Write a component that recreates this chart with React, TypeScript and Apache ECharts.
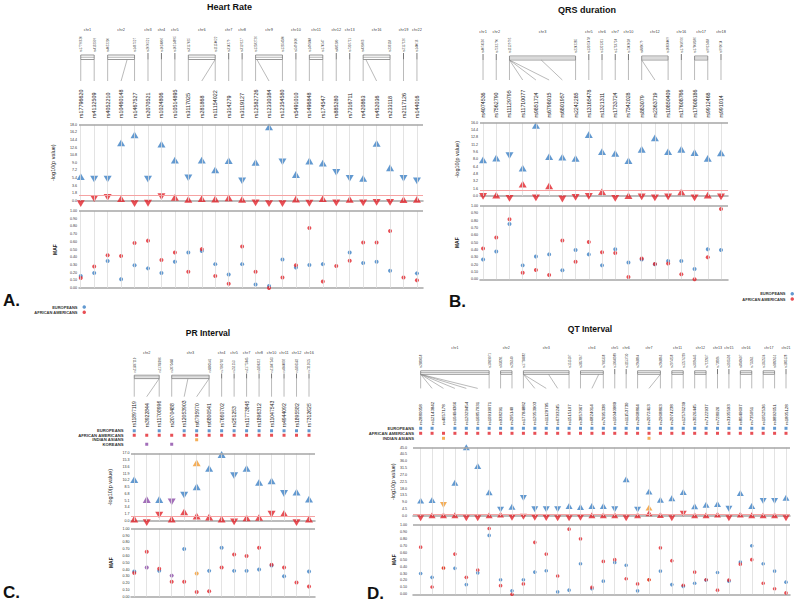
import React, { useEffect, useRef } from "react";
import * as echarts from "echarts";

const FONT = 'Arial, "Liberation Sans", Helvetica, sans-serif';
const BLUE = "#3b7fc4";
const RED = "#e2232a";
const ORANGE = "#f29a2e";
const PURPLE = "#8b4aa8";

// ---------------- A. Heart Rate ----------------
const hrSnps = ["rs17796620","rs4132509","rs4052210","rs10460148","rs1467527","rs2070521","rs1024806","rs10514895","rs3117025","rs281868","rs11154022","rs314279","rs3119127","rs12582726","rs12330384","rs12354580","rs5491010","rs1496848","rs174547","rs885280","rs7316711","rs420863","rs452036","rs233118","rs2117126","rs144016"];
const hrChr: [string, number, number][] = [["chr1",0,1],["chr2",2,4],["chr3",5,5],["chr4",6,6],["chr5",7,7],["chr6",8,10],["chr7",11,11],["chr8",12,12],["chr9",13,15],["chr10",16,16],["chr11",17,18],["chr12",19,19],["chr13",20,20],["chr16",21,23],["chr19",24,24],["chr22",25,25]];
const hrLinks: [number, number][] = [[3.45,3],[10,9],[13.1,14],[21.2,22]];
const hrEuP = [5.7,5.1,5.1,13.7,15.6,5.1,13.4,9.6,5.4,9.6,7.3,9.5,4.7,9.1,17.5,9.2,6.2,9.4,8.9,6.7,5.3,5.3,13.6,7.8,5.3,4.7];
const hrEuDir = [1,-1,-1,1,1,-1,1,1,-1,1,1,1,-1,1,1,-1,1,1,1,-1,-1,1,1,1,-1,-1];
const hrAaP = [-0.7,0.5,0.8,0.5,-0.7,-0.6,0.95,0.8,0.3,0.5,0.4,0.7,0.3,-0.5,-0.7,-0.7,0.4,-0.6,0.5,-0.5,0.3,-0.5,-0.4,-0.4,0.25,0.3];
const hrAaDir = [-1,-1,-1,1,-1,-1,-1,1,1,1,1,1,1,-1,-1,-1,1,-1,1,-1,1,-1,-1,-1,1,1];
const hrEuMaf = [0.155,0.195,0.35,0.115,0.295,0.255,0.195,0.34,0.46,0.48,0.31,0.175,0.31,0.045,0.025,0.37,0.265,0.30,0.31,null,0.46,0.325,0.34,0.225,null,0.19];
const hrAaMaf = [0.13,0.28,0.425,0.415,0.585,0.615,0.365,0.46,0.21,0.505,0.155,0.055,0.54,0.21,0.0,0.135,0.295,0.78,0.085,0.285,0.355,0.59,0.59,0.74,0.135,0.10];

// ---------------- B. QRS duration ----------------
const qrsSnps = ["rs4074536","rs7562790","rs11129795","rs11710077","rs9851724","rs6798015","rs6801957","rs2242285","rs13165478","rs1321311","rs1733724","rs7342028","rs883079","rs2363719","rs10850409","rs17608766","rs17608186","rs9912468","rs991014"];
const qrsChr: [string, number, number][] = [["chr1",0,0],["chr2",1,1],["chr3",2,7],["chr5",8,8],["chr6",9,9],["chr7",10,10],["chr10",11,11],["chr12",12,14],["chr16",15,15],["chr17",16,17],["chr18",18,18]];
const qrsLinks: [number, number][] = [[2,3],[2,4],[2,5],[4.4,6],[12,13]];
const qrsEuP = [7.9,8.3,8.8,6.1,15.4,8.6,8.5,8.2,13.4,9.7,9.3,7.7,10.2,12.7,9.7,10.2,9.5,8.2,9.4];
const qrsEuDir = [1,1,-1,1,1,1,1,1,1,1,1,1,1,1,1,1,1,1,1];
const qrsAaP = [-0.1,0.2,-0.5,2.6,-0.4,2.2,-0.65,-0.3,-0.1,0.95,-0.5,0.1,-0.2,-0.4,-0.2,0.9,-0.4,0.2,-0.2];
const qrsAaDir = [-1,1,-1,1,-1,1,-1,-1,-1,1,-1,1,-1,-1,-1,1,-1,1,-1];
const qrsEuMaf = [0.27,0.38,0.755,0.19,0.31,0.34,0.123,0.40,0.34,0.19,0.41,0.23,0.27,0.205,0.25,0.25,0.14,0.41,0.40];
const qrsAaMaf = [0.42,0.57,0.82,0.09,0.127,0.06,0.53,0.24,0.51,0.37,0.36,0.03,0.285,0.21,0.215,0.07,0.0,0.30,0.96];

// ---------------- C. PR Interval ----------------
const prSnps = ["rs11897119","rs3922844","rs11708996","rs2070488","rs12053903","rs6795970","rs6800541","rs7660702","rs251253","rs11773845","rs1896312","rs11047543","rs4944092","rs1895582","rs7312625"];
const prChr: [string, number, number][] = [["chr2",0,2],["chr3",3,6],["chr4",7,7],["chr5",8,8],["chr7",9,9],["chr8",10,10],["chr10",11,11],["chr11",12,12],["chr12",13,13],["chr16",14,14]];
const prLinks: [number, number][] = [[2,1],[4.3,4],[6,5]];
const prRows = ["EUROPEANS","AFRICAN AMERICANS","INDIAN ASIANS","KOREANS"];
const prEuP = [10.4,null,5.4,null,6.5,8.6,13.2,16.7,11.4,13.2,9.7,10.1,6.9,7.25,5.5];
const prEuDir = [1,0,1,0,-1,1,1,1,-1,1,1,1,-1,1,1];
const prAaP = [0.5,-0.4,1.5,0.5,2.3,1.25,1.0,0.5,-0.2,0.8,0.9,1.7,1.9,-0.4,0.5];
const prAaDir = [1,-1,-1,1,1,1,1,1,-1,1,1,-1,1,-1,1];
const prIaP = [null,null,null,null,null,14.6,null,null,null,null,null,null,null,null,null];
const prIaDir = [0,0,0,0,0,1,0,0,0,0,0,0,0,0,0];
const prKoP = [null,5.4,null,4.8,null,null,null,null,null,null,null,null,null,null,null];
const prKoDir = [0,1,0,-1,0,0,0,0,0,0,0,0,0,0,0];
const prEuMaf = [0.37,null,0.38,null,0.70,null,0.38,0.72,0.38,0.38,0.40,0.46,0.30,null,0.37];
const prAaMaf = [0.35,0.66,0.41,0.22,0.22,0.07,0.08,0.43,0.62,0.60,0.72,0.47,0.43,0.21,0.15];
const prIaMaf = [null,null,null,null,null,0.34,null,null,null,null,null,null,null,null,null];
const prKoMaf = [null,0.43,null,0.31,null,null,null,null,null,null,null,null,null,null,null];

// ---------------- D. QT Interval ----------------
const qtSnps = ["rs2880058","rs12143842","rs4657178","rs10494366","rs12029454","rs16857031","rs10919071","rs938291","rs295140","rs17784882","rs12053903","rs11129795","rs6793245","rs1515107","rs3857067","rs6824014","rs7695338","rs10040989","rs11153730","rs2968864","rs2072413","rs2968863","rs2074238","rs12576239","rs3026445","rs7122937","rs728926","rs3105593","rs8049607","rs735951","rs1052536","rs9892651","rs1805128"];
const qtChr: [string, number, number][] = [["chr1",0,6],["chr2",7,8],["chr3",9,13],["chr4",14,16],["chr5",17,17],["chr6",18,18],["chr7",19,21],["chr11",22,23],["chr12",24,25],["chr13",26,26],["chr15",27,27],["chr16",28,29],["chr17",30,31],["chr21",32,32]];
const qtLinks: [number, number][] = [[0,1],[0,2],[0,3],[0,4],[0,5],[9,10],[9,11],[11.2,12],[15.6,15],[21,20]];
const qtRows = ["EUROPEANS","AFRICAN AMERICANS","INDIAN ASIANS"];
const qtEuP = [10.1,10.5,null,21.9,45.1,32.9,15.6,4.2,6.1,11.8,4.4,4.4,4.4,6.6,5.9,6.6,6.6,4.4,24.1,4.2,16.0,10.7,11.6,15.8,6.4,7.4,7.9,4.8,15.1,6.6,9.9,9.9,12.0];
const qtEuDir = [1,1,0,1,1,1,1,-1,1,-1,-1,-1,-1,1,1,1,1,-1,1,-1,1,1,1,1,1,1,1,-1,1,1,-1,-1,1];
const qtAaP = [-1.5,0.45,0.45,0.45,-1.5,-1.5,0.45,0.9,-1.1,-0.5,-1.1,-1.3,-1.5,-1.5,-1.1,0.45,0.45,0.45,-1.5,0.45,1.8,0.6,-1.5,1.5,0.45,0.45,0.9,-1.5,0.9,0.45,0.45,0.45,-1.5];
const qtAaDir = [-1,1,1,1,-1,-1,1,1,-1,-1,-1,-1,-1,-1,-1,1,1,1,-1,1,1,1,-1,-1,1,1,1,-1,1,1,1,1,-1];
const qtIaP = [null,null,7.2,null,null,null,null,null,null,null,null,null,null,null,null,null,null,null,null,null,5.5,null,null,null,null,null,null,null,null,null,null,null,null];
const qtIaDir = [0,0,-1,0,0,0,0,0,0,0,0,0,0,0,0,0,0,0,0,0,1,0,0,0,0,0,0,0,0,0,0,0,0];
const qtEuMaf = [0.30,0.245,null,0.375,0.14,0.31,0.85,0.21,0.05,0.21,0.32,0.34,0.035,0.06,0.44,0.08,0.19,0.46,0.42,0.05,null,0.335,0.14,0.115,0.16,0.205,0.315,0.19,0.465,0.70,0.44,0.335,0.175];
const qtAaMaf = [0.68,0.105,0.38,0.58,0.245,0.35,0.95,0.125,0.0,0.15,0.75,0.58,0.265,0.94,0.80,0.10,0.475,0.50,0.225,0.15,0.21,0.67,0.485,0.13,0.32,0.21,0.06,0.205,0.435,0.50,0.16,0.08,0.02];
const qtIaMaf = [null,null,0.38,null,null,null,null,null,null,null,null,null,null,null,null,null,null,null,null,null,0.21,null,null,null,null,null,null,null,null,null,null,null,null];

const LEGEND_NAMES = ["EUROPEANS", "AFRICAN AMERICANS"];

type Pop = { name: string; color: string; p: (number | null)[]; dir: number[]; maf: (number | null)[] };
type Cfg = {
  snps: string[]; chr: [string, number, number][]; links: [number, number][];
  pops: Pop[]; rows: string[] | null;
  x0: number; x1: number; xMin: number; xMax: number;
  pTop: number; pBot: number; pMax: number; pInt: number;
  mTop: number; mBot: number; rTop?: number; rBot?: number; rowM?: number;
  d: { chrY: number; labB: number; boxT: number; boxB: number; lineB: number; rsB: number; rsFont: number; labFont: number; chrFont: number };
  lblM: number; gapP: number; gapM: number; tri: number; dot: number;
};

const panels: Cfg[] = [
  {
    snps: hrSnps, chr: hrChr, links: hrLinks, rows: null,
    pops: [
      { name: "EUROPEANS", color: BLUE, p: hrEuP, dir: hrEuDir, maf: hrEuMaf },
      { name: "AFRICAN AMERICANS", color: RED, p: hrAaP, dir: hrAaDir, maf: hrAaMaf },
    ],
    x0: 79, x1: 423, xMin: -0.13, xMax: 25.45,
    pTop: 124.7, pBot: 200.7, pMax: 18, pInt: 1.8, mTop: 211, mBot: 288,
    d: { chrY: 29, labB: 52, boxT: 55, boxB: 59.5, lineB: 81, rsB: 118, rsFont: 5.4, labFont: 3, chrFont: 3.9 },
    lblM: 2, gapP: 23, gapM: 21.5, tri: 8, dot: 4,
  },
  {
    snps: qrsSnps, chr: qrsChr, links: qrsLinks, rows: null,
    pops: [
      { name: "EUROPEANS", color: BLUE, p: qrsEuP, dir: qrsEuDir, maf: qrsEuMaf },
      { name: "AFRICAN AMERICANS", color: RED, p: qrsAaP, dir: qrsAaDir, maf: qrsAaMaf },
    ],
    x0: 480, x1: 728, xMin: -0.23, xMax: 18.53,
    pTop: 122.7, pBot: 196, pMax: 16, pInt: 1.6, mTop: 206, mBot: 279.3,
    d: { chrY: 31, labB: 53, boxT: 56, boxB: 60, lineB: 80, rsB: 117.5, rsFont: 5.3, labFont: 3, chrFont: 3.9 },
    lblM: 2, gapP: 20, gapM: 20.5, tri: 8, dot: 4,
  },
  {
    snps: prSnps, chr: prChr, links: prLinks, rows: prRows,
    pops: [
      { name: "EUROPEANS", color: BLUE, p: prEuP, dir: prEuDir, maf: prEuMaf },
      { name: "INDIAN ASIANS", color: ORANGE, p: prIaP, dir: prIaDir, maf: prIaMaf },
      { name: "KOREANS", color: PURPLE, p: prKoP, dir: prKoDir, maf: prKoMaf },
      { name: "AFRICAN AMERICANS", color: RED, p: prAaP, dir: prAaDir, maf: prAaMaf },
    ],
    x0: 131, x1: 315, xMin: -0.26, xMax: 14.48,
    pTop: 453.3, pBot: 521, pMax: 17, pInt: 1.7, mTop: 528.7, mBot: 596.7,
    rTop: 428.5, rBot: 446.5, rowM: 7.5,
    d: { chrY: 352, labB: 372.5, boxT: 375.2, boxB: 378.6, lineB: 396.7, rsB: 427.3, rsFont: 5.1, labFont: 2.9, chrFont: 3.9 },
    lblM: 1.5, gapP: 18, gapM: 18, tri: 8, dot: 4,
  },
  {
    snps: qtSnps, chr: qtChr, links: qtLinks, rows: qtRows,
    pops: [
      { name: "EUROPEANS", color: BLUE, p: qtEuP, dir: qtEuDir, maf: qtEuMaf },
      { name: "INDIAN ASIANS", color: ORANGE, p: qtIaP, dir: qtIaDir, maf: qtIaMaf },
      { name: "AFRICAN AMERICANS", color: RED, p: qtAaP, dir: qtAaDir, maf: qtAaMaf },
    ],
    x0: 413, x1: 790, xMin: -0.67, xMax: 32.35,
    pTop: 447.5, pBot: 516, pMax: 45, pInt: 4.5, mTop: 525, mBot: 594.3,
    rTop: 425.8, rBot: 440.8, rowM: -1,
    d: { chrY: 348, labB: 368, boxT: 370.8, boxB: 374.3, lineB: 388.4, rsB: 425, rsFont: 4.4, labFont: 2.8, chrFont: 3.7 },
    lblM: 6, gapP: 16, gapM: 15, tri: 7, dot: 3.6,
  },
];

function textStyle(text: string, size: number, fill: string, align: string, opacity = 1) {
  return { text, fontSize: size, fontFamily: FONT, fill, align, verticalAlign: "middle", legacy: false, opacity };
}

function rotText(text: string, x: number, y: number, size: number, fill: string, opacity = 1) {
  return { type: "text", x, y, rotation: Math.PI / 2, style: textStyle(text, size, fill, "left", opacity) };
}

function buildOption() {
  const grid: any[] = [];
  const xAxis: any[] = [];
  const yAxis: any[] = [];
  const series: any[] = [];

  const hiddenX = (gi: number, c: Cfg) => ({ type: "value", gridIndex: gi, min: c.xMin, max: c.xMax, show: false });
  const lineX = (gi: number, c: Cfg) => ({
    type: "value", gridIndex: gi, min: c.xMin, max: c.xMax,
    axisLine: { show: true, onZero: false, lineStyle: { color: "#a6a6a6", width: 1.5 } },
    axisTick: { show: false }, axisLabel: { show: false }, splitLine: { show: false },
  });
  const valY = (gi: number, c: Cfg, min: number, max: number, interval: number, digits: number, name: string, gap: number, bold: boolean) => ({
    type: "value", gridIndex: gi, min, max, interval,
    axisLine: { show: false }, axisTick: { show: false }, splitLine: { show: false },
    axisLabel: { fontSize: 3.6, color: "#333", margin: c.lblM, fontFamily: FONT, formatter: (v: number) => v.toFixed(digits) },
    name, nameLocation: "middle", nameGap: gap,
    nameTextStyle: { fontSize: bold ? 5 : 5.5, fontWeight: bold ? "bold" : "normal", color: "#222", fontFamily: FONT },
  });
  const gridLines = (xi: number, yi: number, c: Cfg, top: number, extra: any[]) => ({
    type: "scatter", xAxisIndex: xi, yAxisIndex: yi, data: [], silent: true, z: 1,
    markLine: {
      silent: true, symbol: ["none", "none"], label: { show: false }, animation: false,
      lineStyle: { type: "solid" },
      data: [
        ...c.snps.map((_, i) => ({ xAxis: i, lineStyle: { color: "#dcdcdc", width: 0.8, type: "solid" } })),
        { yAxis: top, lineStyle: { color: "#a6a6a6", width: 1.5, type: "solid" } },
        ...extra,
      ],
    },
  });

  panels.forEach((c) => {
    const W = c.x1 - c.x0;
    const d = c.d;

    // Diagram grid (chromosome / LD-block track and SNP names)
    let gi = grid.length;
    grid.push({ left: c.x0, top: d.chrY - 5, width: W, height: d.rsB - d.chrY + 5 });
    let xi = xAxis.length; xAxis.push(hiddenX(gi, c));
    let yi = yAxis.length; yAxis.push({ type: "value", gridIndex: gi, min: 0, max: 1, show: false });
    series.push({
      type: "custom", xAxisIndex: xi, yAxisIndex: yi, silent: true, z: 2,
      colorBy: "series", itemStyle: { color: "#333" },
      data: c.chr.map((g, k) => [g[1], g[2], k]),
      renderItem: (_params: any, api: any) => {
        const k = api.value(2) as number;
        const [label, from, to] = c.chr[k];
        const X = (v: number) => api.coord([v, 0])[0];
        const ls = { stroke: "#8c8c8c", lineWidth: 0.6, fill: "none" };
        const ch: any[] = [];
        ch.push({ type: "text", x: (X(from) + X(to)) / 2, y: d.chrY, style: textStyle(label, d.chrFont, "#2a2a2a", "center", 0.97) });
        const ends = from === to ? [from] : [from, to];
        ends.forEach((i) => ch.push(rotText(c.snps[i], X(i), d.labB, d.labFont, "#2a2a2a", 0.97)));
        if (to > from) {
          ch.push({ type: "rect", shape: { x: X(from), y: d.boxT, width: X(to) - X(from), height: d.boxB - d.boxT }, style: { fill: "none", stroke: "#6a6a6a", lineWidth: 0.7 } });
          ch.push({ type: "line", shape: { x1: X(from), y1: (d.boxT + d.boxB) / 2, x2: X(to), y2: (d.boxT + d.boxB) / 2 }, style: { stroke: "#6a6a6a", lineWidth: 0.5, fill: "none" } });
          [from, to].forEach((i) => ch.push({ type: "line", shape: { x1: X(i), y1: d.boxB, x2: X(i), y2: d.lineB }, style: ls }));
        } else {
          ch.push({ type: "line", shape: { x1: X(from), y1: d.labB + 1, x2: X(from), y2: d.boxB }, style: { stroke: "#555", lineWidth: 0.8, fill: "none" } });
          ch.push({ type: "line", shape: { x1: X(from), y1: d.boxB, x2: X(from), y2: d.lineB }, style: ls });
        }
        c.links.filter((l) => l[1] >= from && l[1] <= to).forEach((l) =>
          ch.push({ type: "line", shape: { x1: X(l[0]), y1: d.boxB, x2: X(l[1]), y2: d.lineB }, style: ls })
        );
        for (let i = from; i <= to; i++) ch.push(rotText(c.snps[i], X(i), d.rsB, d.rsFont, "#222"));
        return { type: "group", children: ch };
      },
    });

    // Population rows grid
    if (c.rows && c.rTop !== undefined && c.rBot !== undefined) {
      gi = grid.length;
      grid.push({ left: c.x0, top: c.rTop, width: W, height: c.rBot - c.rTop });
      xi = xAxis.length; xAxis.push(hiddenX(gi, c));
      yi = yAxis.length;
      yAxis.push({
        type: "category", gridIndex: gi, data: c.rows, inverse: true,
        axisLine: { show: false }, axisTick: { show: false }, splitLine: { show: false },
        axisLabel: { interval: 0, fontSize: 4.2, fontWeight: "bold", color: "#333", margin: c.rowM ?? 2, fontFamily: FONT },
      });
      c.pops.forEach((pop) => {
        series.push({
          type: "scatter", name: pop.name, xAxisIndex: xi, yAxisIndex: yi, symbol: "rect", symbolSize: 3, z: 3,
          itemStyle: { color: pop.color },
          data: pop.p.map((v, i) => (v == null ? null : [i, pop.name])).filter((v) => v !== null),
        });
      });
    }

    // P-value grid
    gi = grid.length;
    grid.push({ left: c.x0, top: c.pTop, width: W, height: c.pBot - c.pTop });
    xi = xAxis.length; xAxis.push(lineX(gi, c));
    yi = yAxis.length; yAxis.push(valY(gi, c, 0, c.pMax, c.pInt, 1, "-log10(p value)", c.gapP, false));
    series.push(gridLines(xi, yi, c, c.pMax, [{ yAxis: 1.3, lineStyle: { color: "#f5a3a3", width: 1, type: "solid" } }]));
    c.pops.forEach((pop) => {
      series.push({
        type: "scatter", name: pop.name, xAxisIndex: xi, yAxisIndex: yi,
        symbol: "triangle", symbolSize: [c.tri, c.tri * 0.85], clip: false, z: 3,
        itemStyle: { color: pop.color },
        data: pop.p
          .map((v, i) => (v == null ? null : { value: [i, v], symbolRotate: pop.dir[i] < 0 ? 180 : 0 }))
          .filter((v) => v !== null),
      });
    });

    // MAF grid
    gi = grid.length;
    grid.push({ left: c.x0, top: c.mTop, width: W, height: c.mBot - c.mTop });
    xi = xAxis.length; xAxis.push(lineX(gi, c));
    yi = yAxis.length; yAxis.push(valY(gi, c, 0, 1, 0.1, 2, "MAF", c.gapM, true));
    series.push(gridLines(xi, yi, c, 1, []));
    c.pops.forEach((pop) => {
      series.push({
        type: "scatter", name: pop.name, xAxisIndex: xi, yAxisIndex: yi,
        symbol: "circle", symbolSize: c.dot, clip: false, z: 3,
        itemStyle: { color: pop.color },
        data: pop.maf.map((v, i) => (v == null ? null : [i, v])).filter((v) => v !== null),
      });
    });
  });

  const txt = (text: string, x: number, y: number, size: number, align: string) => ({
    type: "text", x, y, silent: true,
    style: { text, fontSize: size, fontWeight: "bold", fontFamily: FONT, fill: "#111", align, verticalAlign: "middle", textAlign: align, textVerticalAlign: "middle" },
  });

  const legendBase = {
    data: LEGEND_NAMES, orient: "vertical", align: "right", icon: "circle",
    itemWidth: 3.5, itemHeight: 3.5, itemGap: 1.2, padding: 0, selectedMode: false,
    textStyle: { fontSize: 4, fontWeight: "bold", color: "#333", fontFamily: FONT },
  };

  return {
    animation: false,
    backgroundColor: "#ffffff",
    grid, xAxis, yAxis, series,
    legend: [
      { ...legendBase, right: 714, top: 305 },
      { ...legendBase, right: 6, top: 291.8 },
    ],
    graphic: [
      txt("Heart Rate", 229.5, 7.2, 9, "center"),
      txt("QRS duration", 587, 10.3, 9, "center"),
      txt("PR Interval", 208, 333, 8.5, "center"),
      txt("QT Interval", 590, 328.5, 8.5, "center"),
      txt("A.", 3, 300, 17, "left"),
      txt("B.", 449, 301.5, 17, "left"),
      txt("C.", 3, 592, 17, "left"),
      txt("D.", 367, 593, 17, "left"),
    ],
  };
}

export default function App() {
  const ref = useRef<HTMLDivElement>(null);
  useEffect(() => {
    if (!ref.current) return;
    const chart = echarts.init(ref.current, undefined, { renderer: "svg" });
    chart.setOption(buildOption() as any);
    return () => chart.dispose();
  }, []);
  return (
    <div
      ref={ref}
      style={{ position: "fixed", left: 0, top: 0, width: 800, height: 604, background: "#fff" }}
    />
  );
}
